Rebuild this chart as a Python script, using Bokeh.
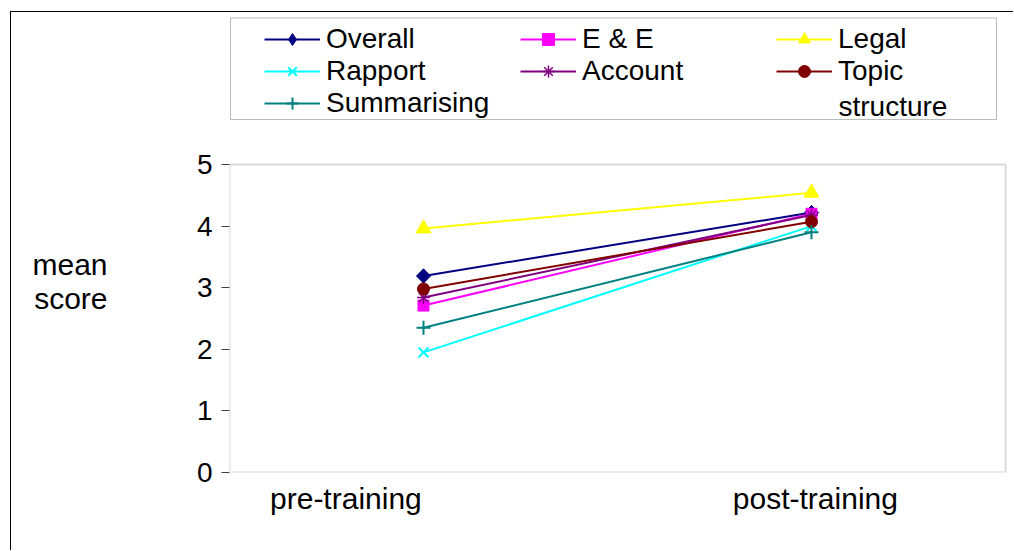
from bokeh.plotting import figure
from bokeh.models import (Range1d, FixedTicker, Legend, LegendItem, Label,
                          BoxAnnotation, LinearAxis)
from bokeh.embed import file_html
from bokeh.resources import INLINE

# --- data -------------------------------------------------------------
categories = ["pre-training", "post-training"]
overall = [3.19, 4.22]
e_and_e = [2.71, 4.20]
legal = [3.96, 4.54]
rapport = [1.95, 4.00]
account = [2.84, 4.18]
topic_structure = [2.98, 4.07]
summarising = [2.35, 3.90]
y_ticks = [0, 1, 2, 3, 4, 5]
y_title = ["mean", "score"]

# --- layout (page pixels) ---------------------------------------------
FONT = "Liberation Sans"
PAGE_W, PAGE_H = 1014, 551
OX, OY = 11, 12                       # canvas origin inside the chart-area frame
PL, PT, PR, PB = 229, 164, 1005, 472  # plot-area box
GRAY = "#808080"

W, H = PAGE_W - OX, PAGE_H - OY
n = len(categories)
px_per_unit = (PB - PT) / y_ticks[-1]
x_end = n * (PAGE_W - PL) / (PR - PL)
y_end = (PB - OY) / px_per_unit

def sx(px):
    return px - PL

def sy(py):
    return PB - py

p = figure(width=W, height=H, output_backend="svg", toolbar_location=None,
           x_range=Range1d(0, x_end), y_range=Range1d(0, y_end),
           min_border_left=PL - OX, min_border_right=0,
           min_border_top=0, min_border_bottom=PAGE_H - PB)
p.title.visible = False
p.background_fill_color = "white"
p.border_fill_color = "white"
p.outline_line_color = None
p.xgrid.visible = False
p.ygrid.visible = False
p.styles = {"margin-left": "10px", "margin-top": "11px",
            "border-left": "1px solid #000000", "border-top": "1px solid #000000"}

# plot-area box spanning the category and value ranges
p.add_layout(BoxAnnotation(left=0, right=n, bottom=y_ticks[0], top=y_ticks[-1],
                           fill_alpha=0, line_color=GRAY, line_width=2,
                           level="underlay"))

xs = [i + 0.5 for i in range(n)]
label_pos = [0.3, 1.51]

p.xaxis.ticker = FixedTicker(ticks=label_pos)
p.xaxis.major_label_overrides = {pos: c for pos, c in zip(label_pos, categories)}
p.xaxis.major_tick_line_color = None
p.xaxis.minor_tick_line_color = None
p.xaxis.axis_line_color = None
p.xaxis.major_label_standoff = 3
p.xaxis.major_label_text_font = FONT
p.xaxis.major_label_text_font_size = "30px"
p.xaxis.major_label_text_color = "black"

p.yaxis.ticker = FixedTicker(ticks=y_ticks)
p.yaxis.minor_tick_line_color = None
p.yaxis.major_tick_in = 0
p.yaxis.major_tick_out = 8
p.yaxis.major_tick_line_color = "#404040"
p.yaxis.axis_line_color = None
p.yaxis.major_label_standoff = 9
p.yaxis.major_label_text_font = FONT
p.yaxis.major_label_text_font_size = "28px"
p.yaxis.major_label_text_color = "black"

# horizontal two-line value-axis title
title_pos = [(PB - 264) / px_per_unit, (PB - 298) / px_per_unit]
title_axis = LinearAxis(ticker=FixedTicker(ticks=title_pos),
                        major_label_overrides={v: t for v, t in zip(title_pos, y_title)},
                        axis_line_color=None, major_tick_line_color=None,
                        minor_tick_line_color=None, major_label_standoff=80,
                        major_label_text_font=FONT, major_label_text_font_size="30px",
                        major_label_text_color="black")
p.add_layout(title_axis, "left")

series = [
    ("Overall", overall, "#000080", dict(marker="diamond", size=14)),
    ("E & E", e_and_e, "#FF00FF", dict(marker="square", size=11)),
    ("Legal", legal, "#FFFF00", dict(marker="triangle", size=15)),
    ("Rapport", rapport, "#00FFFF", dict(marker="x", size=14, line_width=2)),
    ("Account", account, "#800080", dict(marker="asterisk", size=13, line_width=1.5)),
    ("Topic", topic_structure, "#800000", dict(marker="circle", size=12)),
    ("Summarising", summarising, "#008080", dict(marker="cross", size=14, line_width=2)),
]

items = []
for name, vals, col, mk in series:
    rl = p.line(xs, vals, line_color=col, line_width=2)
    rs = p.scatter(xs, vals, line_color=col, fill_color=col, **mk)
    if mk["marker"] == "diamond":
        # widen the plotted diamond into a square rhombus
        p.scatter(xs, vals, marker="square", size=10, angle=0.7853981634,
                  line_color=col, fill_color=col)
    items.append(LegendItem(label=name, renderers=[rl, rs]))

legend = Legend(items=items, orientation="horizontal", ncols=3,
                location=(sx(264), sy(118.5)),
                glyph_width=56, glyph_height=30, label_height=30,
                label_width=194, label_standoff=6, spacing=0, padding=0,
                margin=0, border_line_color=None, background_fill_alpha=0,
                label_text_font=FONT, label_text_font_size="28px",
                label_text_color="black")
p.add_layout(legend)

# second line of the wrapped "Topic structure" legend entry
p.add_layout(Label(x=sx(838), y=sy(106), x_units="screen", y_units="screen",
                   text="structure", text_font=FONT, text_font_size="28px",
                   text_baseline="alphabetic", text_color="black"))

# legend frame
p.add_layout(BoxAnnotation(left=sx(230), right=sx(996), top=sy(17.5), bottom=sy(119),
                           left_units="screen", right_units="screen",
                           top_units="screen", bottom_units="screen",
                           fill_alpha=0, line_color="#222222", line_width=1))

open("out.html", "w").write(file_html(p, INLINE))
